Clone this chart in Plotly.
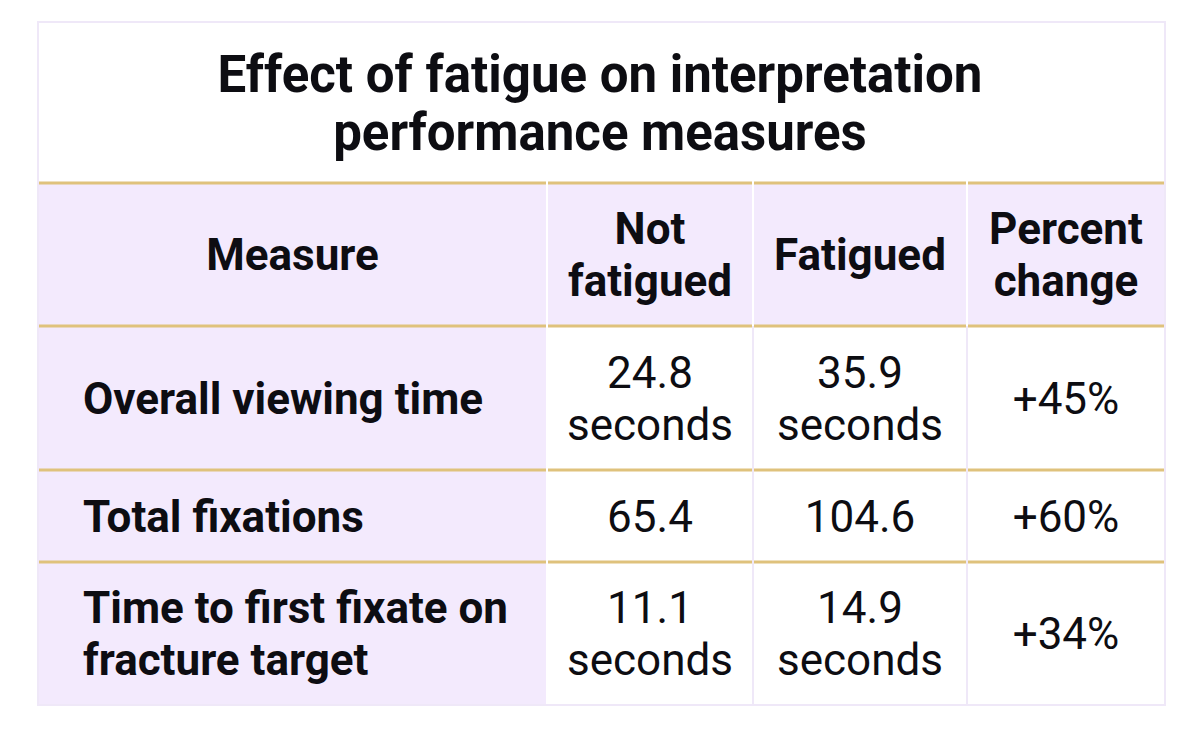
#!/usr/bin/env python3
# -*- coding: utf-8 -*-
"""
Table: effect of fatigue on interpretation performance measures.
Built on a pixel-like cartesian canvas so rows can have their own heights
and the text can sit vertically centred in each cell.
"""

import plotly.graph_objects as go

# ── data ────────────────────────────────────────────────────────────────────
title_text = "Effect of fatigue on interpretation<br>performance measures"
header = ["Measure", "Not<br>fatigued", "Fatigued", "Percent<br>change"]
measures = [
    "Overall viewing time",
    "Total fixations",
    "Time to first fixate on<br>fracture target",
]
not_fatigued = [24.8, 65.4, 11.1]
fatigued = [35.9, 104.6, 14.9]
units = ["seconds", "", "seconds"]
pct_change = [45, 60, 34]

# ── geometry (canvas units = px of the screenshot) ──────────────────────────
W, H = 1200, 735
PAGE_OFFSET = 8                          # default body margin of the html page
col_edges = [38, 547, 753, 967, 1165]
row_edges = [183, 326, 470, 562, 705]    # header, row1, row2, row3
title_top = 22
label_x = 83

LAVENDER = "#f3eafd"
GOLD = "#dfc27c"
EDGE = "#efe8f8"
FONT = "Roboto, Arial"
TXT = "#0d0d12"
BODY_SIZE, BODY_GAP = 44, 52
TITLE_SIZE, TITLE_GAP = 51, 58
# plotly puts the cap-middle of "middle" text ~0.105 em above the point
CAP_FIX = 0.105


def fmt_val(v, unit):
    s = f"{v:g}"
    return f"{s}<br>{unit}" if unit else s


def split_lines(texts, xs, ys, gap, size):
    """One text point per line, so the line spacing can be set freely."""
    out_x, out_y, out_t = [], [], []
    for t, x, y in zip(texts, xs, ys):
        parts = t.split("<br>")
        n = len(parts)
        for i, p in enumerate(parts):
            out_x.append(x)
            out_y.append(y + (i - (n - 1) / 2) * gap + CAP_FIX * size)
            out_t.append(p)
    return out_x, out_y, out_t


def text_trace(texts, xs, ys, size, gap, bold=False, pos="middle center"):
    tx, ty, tt = split_lines(texts, xs, ys, gap, size)
    return go.Scatter(
        x=tx, y=ty, mode="text", text=tt, textposition=pos,
        textfont=dict(family=FONT, size=size, color=TXT,
                      weight="bold" if bold else "normal"),
        hoverinfo="skip", showlegend=False,
    )


col_mid = [(a + b) / 2 for a, b in zip(col_edges[:-1], col_edges[1:])]
row_mid = [(a + b) / 2 for a, b in zip(row_edges[:-1], row_edges[1:])]

shapes = []

# cell backgrounds
for r in range(4):
    y0, y1 = row_edges[r], row_edges[r + 1]
    for c in range(4):
        x0, x1 = col_edges[c], col_edges[c + 1]
        fill = LAVENDER if (r == 0 or c == 0) else "white"
        shapes.append(dict(type="rect", xref="x", yref="y", layer="below",
                           x0=x0 + 1, x1=x1 - 1, y0=y0, y1=y1,
                           fillcolor=fill, line=dict(width=0)))

# faint column separators in the body
for c in (2, 3):
    shapes.append(dict(type="line", xref="x", yref="y", layer="below",
                       x0=col_edges[c], x1=col_edges[c],
                       y0=row_edges[1], y1=row_edges[-1],
                       line=dict(color=EDGE, width=2)))

# gold rules, broken slightly at each column boundary
for y in row_edges[:-1]:
    for c in range(4):
        x0 = col_edges[c] + (1 if c > 0 else 0)
        x1 = col_edges[c + 1] - (1 if c < 3 else 0)
        shapes.append(dict(type="line", xref="x", yref="y", layer="below",
                           x0=x0, x1=x1, y0=y, y1=y,
                           line=dict(color=GOLD, width=3)))

# outer frame
shapes.append(dict(type="rect", xref="x", yref="y", layer="below",
                   x0=col_edges[0], x1=col_edges[-1], y0=title_top, y1=row_edges[-1],
                   fillcolor="rgba(0,0,0,0)", line=dict(color=EDGE, width=2)))

fig = go.Figure()

# title
fig.add_trace(text_trace([title_text], [W / 2], [(title_top + row_edges[0]) / 2],
                         TITLE_SIZE, TITLE_GAP, bold=True))

# header row
fig.add_trace(text_trace(header, col_mid, [row_mid[0]] * 4,
                         BODY_SIZE, BODY_GAP, bold=True))

# measure labels (left aligned)
fig.add_trace(text_trace(measures, [label_x] * len(measures), row_mid[1:],
                         BODY_SIZE, BODY_GAP, bold=True, pos="middle right"))

# value columns
value_cols = [
    [fmt_val(v, u) for v, u in zip(not_fatigued, units)],
    [fmt_val(v, u) for v, u in zip(fatigued, units)],
    [f"+{p}%" for p in pct_change],
]
for c, vals in enumerate(value_cols, start=1):
    fig.add_trace(text_trace(vals, [col_mid[c]] * len(vals), row_mid[1:],
                             BODY_SIZE, BODY_GAP))

fig.update_layout(
    width=W, height=H,
    margin=dict(l=0, r=0, t=0, b=0),
    paper_bgcolor="white", plot_bgcolor="white",
    shapes=shapes,
    xaxis=dict(range=[PAGE_OFFSET, W + PAGE_OFFSET], visible=False, fixedrange=True),
    yaxis=dict(range=[H + PAGE_OFFSET, PAGE_OFFSET], visible=False, fixedrange=True),
)

fig.write_html("out.html")
